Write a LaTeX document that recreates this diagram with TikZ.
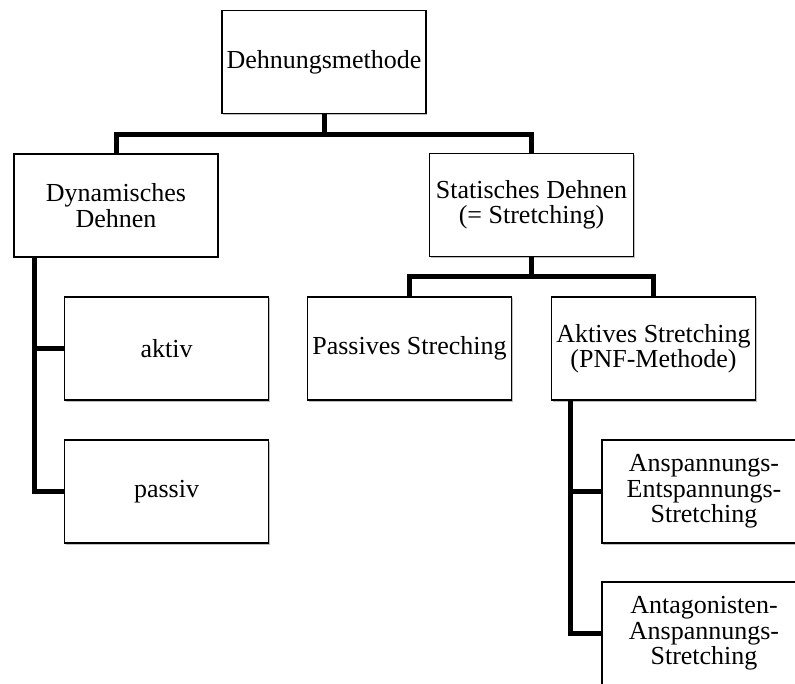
\documentclass[tikz,border=0pt]{standalone}
\usepackage{fontspec}
\setmainfont{Liberation Serif}
\usetikzlibrary{shadows}

\tikzset{
  kasten/.style={draw=black, line width=1.2pt, fill=white, minimum width=204pt, minimum height=103pt,
    inner sep=0pt, align=center, font=\fontsize{26}{25.5}\selectfont,
    drop shadow={shadow xshift=1pt, shadow yshift=-1.5pt, fill=black, opacity=.25}},
  ast/.style={black, line width=5pt}
}

\begin{document}
\begin{tikzpicture}[x=1pt, y=-1pt]
                \useasboundingbox (0,0) rectangle (795,684);
                % Kaesten
                \node[kasten] (wurzel) at (324,62) {Dehnungsmethode};
                \node[kasten] (dyn) at (116,205.5) {Dynamisches\\Dehnen};
                \node[kasten] (stat) at (531.5,205) {Statisches Dehnen\\(= Stretching)};
                \node[kasten] (aktiv) at (166.5,348.5) {aktiv};
                \node[kasten] (passiv) at (166.5,491.5) {passiv};
                \node[kasten] (pass) at (409.5,348.5) {Passives Streching};
                \node[kasten] (akt) at (653.5,348.5) {Aktives Stretching\\(PNF-Methode)};
                \node[kasten] (ansp) at (704,491.5) {Anspannungs-\\Entspannungs-\\Stretching};
                \node[kasten] (antag) at (704,633.5) {Antagonisten-\\Anspannungs-\\Stretching};
                % Verbindungen
                \draw[ast] (wurzel.south) -- ++(0,20) coordinate (k1) -| (dyn.north);
                \draw[ast] (k1) -| (stat.north);
                \draw[ast] (stat.south) -- ++(0,19) coordinate (k2) -| (pass.north);
                \draw[ast] (k2) -| (akt.north);
                \coordinate (k3) at ([xshift=21pt]dyn.south west);
                \draw[ast] (k3) |- (aktiv.west);
                \draw[ast] (k3) |- (passiv.west);
                \coordinate (k4) at ([xshift=20pt]akt.south west);
                \draw[ast] (k4) |- (ansp.west);
                \draw[ast] (k4) |- (antag.west);
            \end{tikzpicture}
\end{document}
